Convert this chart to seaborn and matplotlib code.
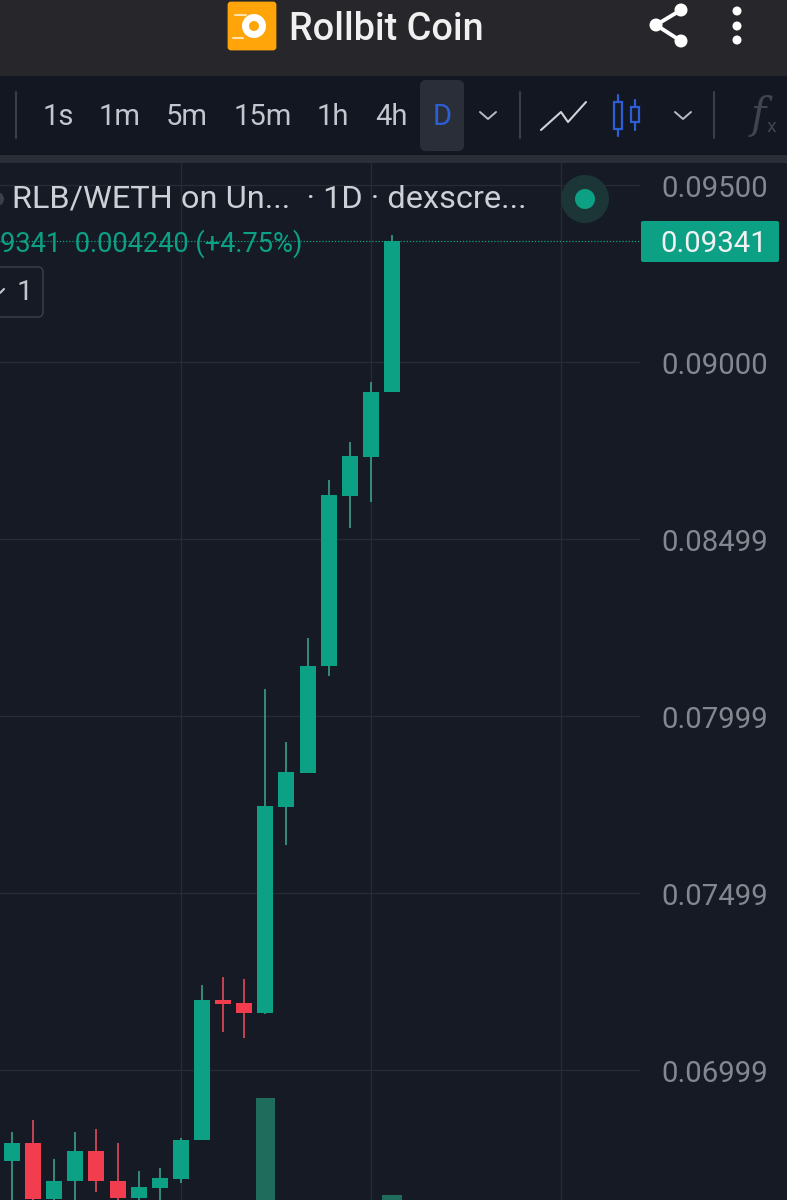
from matplotlib import pyplot as plt
from matplotlib.patches import Circle, FancyBboxPatch, Rectangle
from matplotlib.transforms import ScaledTranslation
import pandas as pd
import seaborn as sns

# daily candles, values
days = list(range(19))
opens = [0.06743, 0.06794, 0.06636, 0.06686, 0.06771, 0.06686, 0.06638, 0.06667, 0.06692, 0.06802,
         0.07198, 0.07189, 0.07161, 0.07743, 0.07839, 0.08141, 0.08621, 0.08732, 0.08915]
closes = [0.06794, 0.06636, 0.06686, 0.06771, 0.06686, 0.06638, 0.06669, 0.06695, 0.06802, 0.07198,
          0.07186, 0.07161, 0.07746, 0.07842, 0.08141, 0.08624, 0.08734, 0.08915, 0.09341]
highs = [0.06825, 0.06859, 0.06749, 0.06825, 0.06833, 0.06794, 0.06715, 0.06723, 0.06808, 0.07240,
         0.07263, 0.07257, 0.08076, 0.07927, 0.08220, 0.08667, 0.08774, 0.08944, 0.09359]
lows = [0.06605, 0.06627, 0.06619, 0.06619, 0.06655, 0.06619, 0.06619, 0.06619, 0.06681, 0.06802,
        0.07107, 0.07090, 0.07158, 0.07636, 0.07839, 0.08113, 0.08531, 0.08605, 0.08915]
# only two volume bars reach into the crop
volumes = [0, 0, 0, 0, 0, 0, 0, 0, 0, 0, 0, 0, 510, 0, 0, 0, 0, 0, 25]

price_ticks = [0.095, 0.09, 0.085, 0.08, 0.075, 0.07]
price_labels = ["0.09500", "0.09000", "0.08499", "0.07999", "0.07499", "0.06999"]
grid_days = [8, 17, 26]
last_price = 0.09341
intervals = ["1s", "1m", "5m", "15m", "1h", "4h"]
interval_x = [58, 120, 187, 263, 333, 391]

GREEN = "#0ca084"
RED = "#f23d4f"
BG = "#161a24"

sns.set_theme(style="dark", rc={"figure.facecolor": BG, "axes.facecolor": BG})
plt.rcParams["font.family"] = ["Roboto", "DejaVu Sans"]

df = pd.DataFrame({"day": days, "open": opens, "close": closes, "high": highs, "low": lows, "volume": volumes})
df["base"] = df[["open", "close"]].min(axis=1)
df["body"] = (df["close"] - df["open"]).abs()
up = df[df["close"] >= df["open"]]
down = df[df["close"] < df["open"]]

W, H = 787, 1200
fig = plt.figure(figsize=(W / 100, H / 100), dpi=100)

# price pane, 640px wide, from y=163 down to the bottom of the image
ax = fig.add_axes([0, 0, 640 / W, (H - 163) / H])
ax_vol = ax.twinx()
ax.set_zorder(2)
ax_vol.set_zorder(1)
ax.patch.set_visible(False)

sns.barplot(data=df, x="day", y="volume", native_scale=True, color="#1f6b5c", saturation=1,
            width=0.92, errorbar=None, linewidth=0, ax=ax_vol)
ax_vol.set_ylim(0, 5185)
ax_vol.set_yticks([])
ax_vol.set_ylabel("")
ax_vol.grid(False)

ax.vlines(up["day"], up["low"], up["high"], color="#3c9f8b", linewidth=1.2, zorder=3)
ax.vlines(down["day"], down["low"], down["high"], color="#e5485b", linewidth=1.2, zorder=3)
sns.barplot(data=up, x="day", y="body", bottom=up["base"], native_scale=True, color=GREEN, saturation=1,
            width=0.76, errorbar=None, linewidth=0, zorder=4, ax=ax)
sns.barplot(data=down, x="day", y="body", bottom=down["base"], native_scale=True, color=RED, saturation=1,
            width=0.76, errorbar=None, linewidth=0, zorder=4, ax=ax)

ax.axhline(last_price, color=GREEN, linestyle=(0, (1, 1.5)), linewidth=0.9, zorder=2.5)

ax.set_xlim(-0.568, 29.75)
ax.set_ylim(0.07 - 130 / 35400, 0.07 + 907 / 35400)
ax.set_xticks(grid_days)
ax.set_xticklabels([])
ax.set_yticks(price_ticks)
ax.set_yticklabels(price_labels)
ax.yaxis.tick_right()
ax.tick_params(axis="y", length=0, pad=15.6, labelsize=21.2, labelcolor="#84878f")
ax.tick_params(axis="x", length=0)
# labels sit 1px under their gridlines in the reference
for lab in ax.get_yticklabels():
    lab.set_transform(lab.get_transform() + ScaledTranslation(0, -1 / 100, fig.dpi_scale_trans))
ax.grid(True, color="#272b35", linewidth=0.9)
ax.set_axisbelow(True)
ax.set_xlabel("")
ax.set_ylabel("")
for a in [ax, ax_vol]:
    for s in a.spines.values():
        s.set_visible(False)

# app chrome drawn in pixel coordinates
ui = fig.add_axes([0, 0, 1, 1], zorder=5)
ui.set_xlim(0, W)
ui.set_ylim(H, 0)
ui.axis("off")

ui.add_patch(Rectangle((0, 0), W, 76, color="#27272b", lw=0))
ui.add_patch(Rectangle((0, 76), W, 79, color="#131722", lw=0))
ui.add_patch(Rectangle((0, 155), W, 8, color="#2a2e36", lw=0))

# logo
ui.add_patch(FancyBboxPatch((229, 3), 46, 46, boxstyle="round,pad=0,rounding_size=2", color="#ffa409", lw=2))
ui.add_patch(Circle((254, 26), 12, color="white", lw=0))
ui.add_patch(Circle((254, 26), 5, color="#ffa409", lw=0))
ui.plot([235, 246], [15, 15], color="#ffe2ae", lw=1.5)
ui.plot([233, 243], [38, 38], color="#ffe2ae", lw=1.5)
ui.text(289, 29, "Rollbit Coin", color="#f0f0f0", fontsize=27.3, fontweight="medium", va="center")

# share icon and menu dots
ui.plot([681, 656, 681], [10, 25, 41], color="white", lw=2.8)
for x, y in [(681, 10), (656, 25), (681, 41)]:
    ui.add_patch(Circle((x, y), 6.5, color="white", lw=0))
for y in [11, 26, 40]:
    ui.add_patch(Circle((737, y), 4.5, color="white", lw=0))

# toolbar
for x in [16, 520, 714]:
    ui.plot([x, x], [92, 138], color="#3a3e48", lw=1.5)
for label, x in zip(intervals, interval_x):
    ui.text(x, 117, label, color="#c3c6cd", fontsize=21, ha="center", va="center")
ui.add_patch(FancyBboxPatch((420, 80), 44, 71, boxstyle="round,pad=0,rounding_size=6", color="#2a2e39", lw=0))
ui.text(442, 117, "D", color="#2c5fd6", fontsize=21, ha="center", va="center")
for x in [488, 683]:
    ui.plot([x - 8, x, x + 8], [112, 119, 112], color="#b9bcc4", lw=1.4)
ui.plot([541, 561, 568, 586], [130, 112, 122, 102], color="#d0d2d8", lw=1.5)
ui.plot([618, 618], [95, 136], color="#2c5fd6", lw=1.6)
ui.plot([634.5, 634.5], [100, 130], color="#2c5fd6", lw=1.6)
ui.add_patch(Rectangle((614, 102), 8, 27, facecolor=BG, edgecolor="#2c5fd6", lw=1.6, zorder=3))
ui.add_patch(Rectangle((630.5, 107), 8, 15, facecolor=BG, edgecolor="#2c5fd6", lw=1.6, zorder=3))
ui.text(758, 116, "f", color="#41444c", fontsize=30, family="DejaVu Serif", style="italic", ha="center", va="center")
ui.text(771, 127, "x", color="#41444c", fontsize=14, ha="center", va="center")

# legend rows over the chart
ui.add_patch(Circle((-3, 199), 7, color="#3b3f4a", lw=0))
ui.text(12, 199, "RLB/WETH on Un...  · 1D · dexscre...", color="#cdd0d6", fontsize=23.4, va="center")
ui.add_patch(Circle((585, 199), 24, color="#1c3537", lw=0))
ui.add_patch(Circle((585, 199), 10, color=GREEN, lw=0))
ui.text(0, 244, "9341  0.004240 (+4.75%)", color=GREEN, fontsize=19.6, va="center")
ui.add_patch(FancyBboxPatch((-12, 267), 55, 50, boxstyle="round,pad=0,rounding_size=5",
                            facecolor=BG, edgecolor="#3a3e48", lw=1.1))
ui.plot([0, 4], [293, 289], color="#c3c6cd", lw=1.5)
ui.text(25, 293, "1", color="#c3c6cd", fontsize=20.5, ha="center", va="center")

# last price tag
ui.add_patch(FancyBboxPatch((641, 221), 138, 41, boxstyle="round,pad=0,rounding_size=2", color=GREEN, lw=0))
ui.text(714, 244, "0.09341", color="#f2f2f2", fontsize=21.2, ha="center", va="center")

plt.savefig("out.png", dpi=100)
